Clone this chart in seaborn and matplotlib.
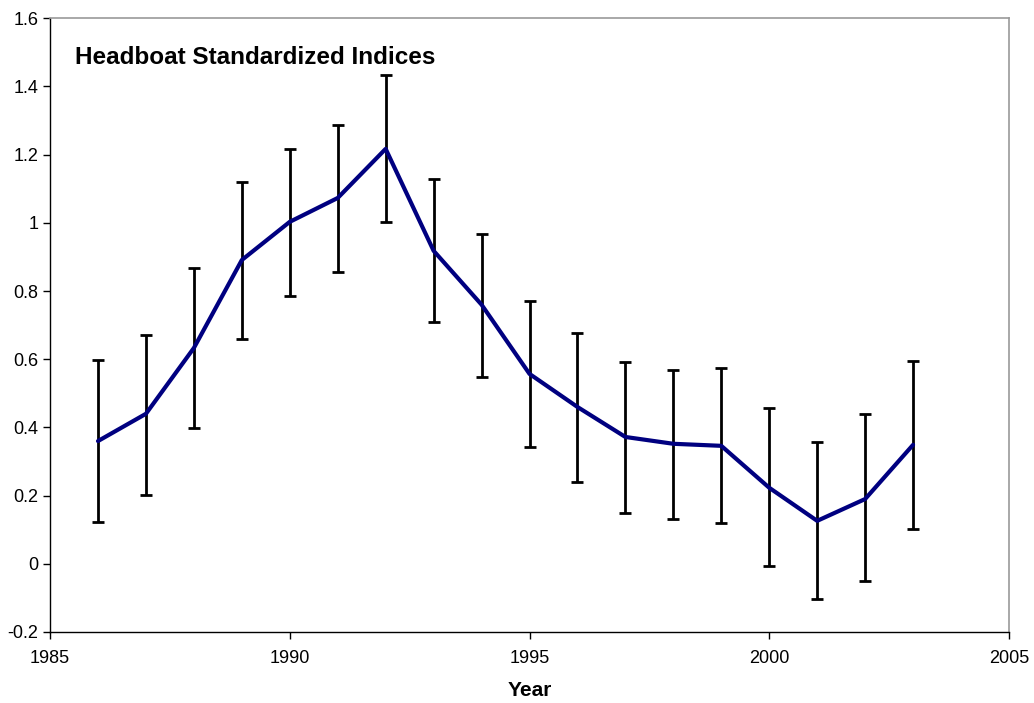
import numpy as np
import pandas as pd
import matplotlib
matplotlib.use("Agg")
import matplotlib.pyplot as plt
import seaborn as sns

years = [1986, 1987, 1988, 1989, 1990, 1991, 1992, 1993, 1994,
         1995, 1996, 1997, 1998, 1999, 2000, 2001, 2002, 2003]
index = [0.360, 0.440, 0.633, 0.891, 1.003, 1.073, 1.217, 0.918, 0.760,
         0.557, 0.460, 0.372, 0.352, 0.346, 0.223, 0.126, 0.190, 0.349]
upper = [0.598, 0.672, 0.868, 1.120, 1.217, 1.287, 1.434, 1.129, 0.968,
         0.771, 0.677, 0.592, 0.569, 0.575, 0.457, 0.358, 0.440, 0.595]
lower = [0.123, 0.202, 0.399, 0.660, 0.786, 0.856, 1.003, 0.710, 0.548,
         0.343, 0.240, 0.150, 0.132, 0.120, -0.006, -0.103, -0.050, 0.103]

df = pd.DataFrame({"year": years, "index": index, "upper": upper, "lower": lower})

sns.set_style("white")
plt.rcParams['font.family'] = ['Liberation Sans', 'DejaVu Sans']
plt.rcParams['text.color'] = 'black'

fig = plt.figure(figsize=(10.34, 7.03), dpi=100)
ax = fig.add_axes([0.0484, 0.101, 0.9274, 0.873])

# error bars first, index line on top
ax.errorbar(df["year"], df["index"],
            yerr=[df["index"] - df["lower"], df["upper"] - df["index"]],
            fmt="none", ecolor="black", elinewidth=2, capsize=4.5, capthick=2)
sns.lineplot(data=df, x="year", y="index", color="#000080", linewidth=3, ax=ax)

ax.set_xlim(1985, 2005)
ax.set_ylim(-0.2, 1.6)
ax.set_xticks([1985, 1990, 1995, 2000, 2005])
ax.set_yticks(np.arange(-0.2, 1.61, 0.2))
ax.set_yticklabels(["-0.2", "0", "0.2", "0.4", "0.6", "0.8", "1", "1.2", "1.4", "1.6"])
ax.set_xlabel("Year", fontsize=15, fontweight="bold", color="black", labelpad=10)
ax.set_ylabel("")
ax.tick_params(axis="both", labelsize=13, direction="out", length=5, width=1,
               bottom=True, left=True, colors="black")
ax.tick_params(axis="x", pad=8)

for s in ["top", "right"]:
    ax.spines[s].set_color("#999999")
    ax.spines[s].set_linewidth(1.2)
for s in ["left", "bottom"]:
    ax.spines[s].set_color("black")
    ax.spines[s].set_linewidth(1)

ax.text(0.026, 0.955, "Headboat Standardized Indices", transform=ax.transAxes,
        fontsize=17.5, fontweight="bold", color="black", va="top", ha="left")

fig.savefig("out.png", dpi=100)
